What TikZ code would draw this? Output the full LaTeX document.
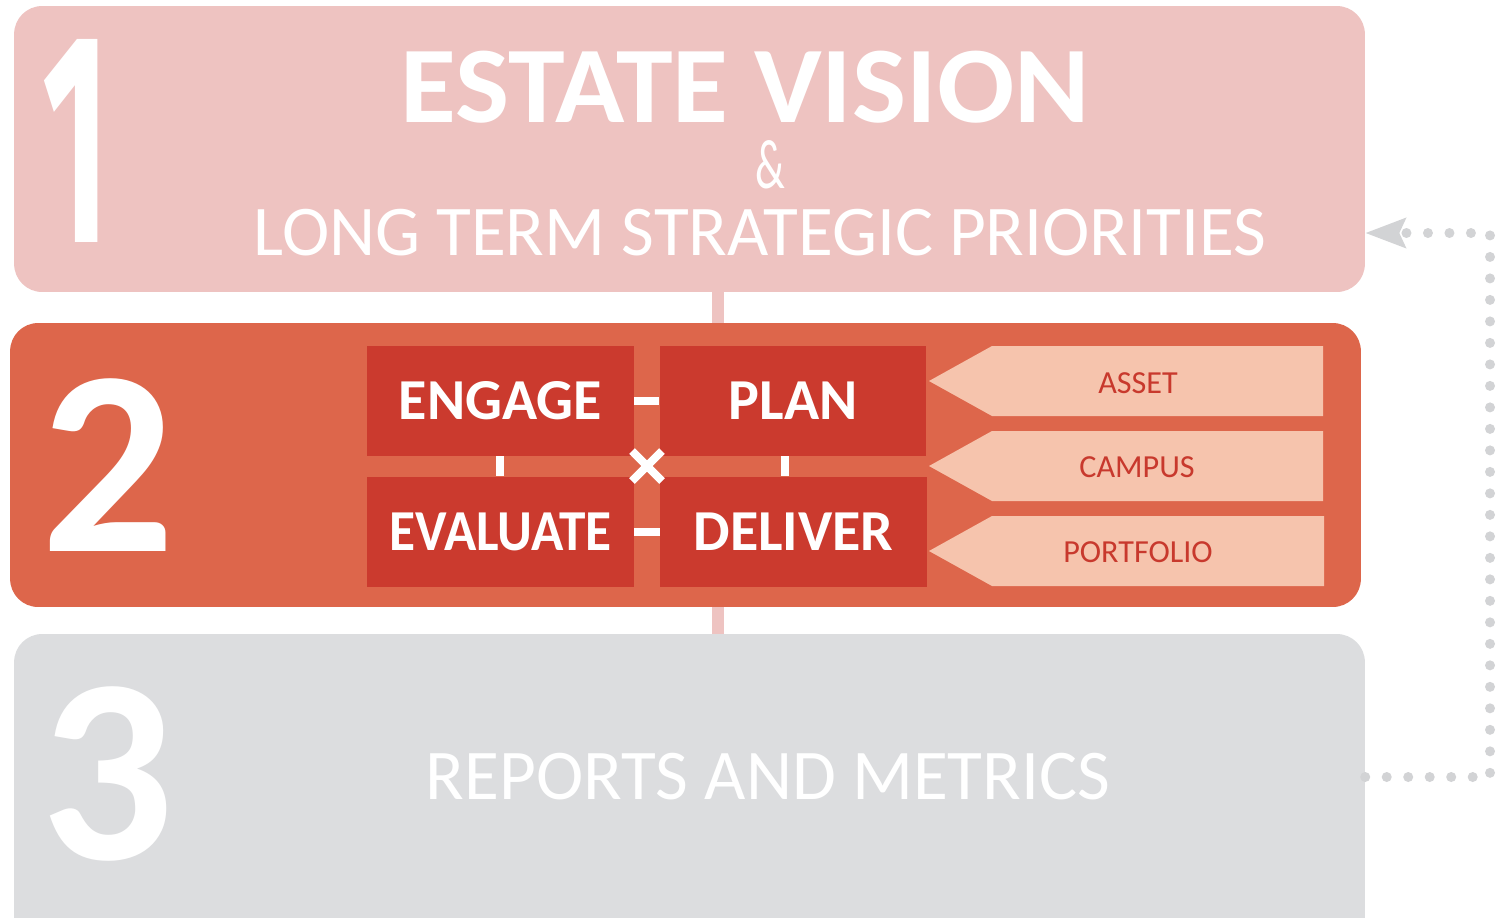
\documentclass[tikz,border=0pt]{standalone}
\usepackage{fontspec}
\setmainfont{Carlito}
\newfontfamily\onefont{Fira Sans}
\usetikzlibrary{arrows.meta}
\definecolor{boxA}{HTML}{EEC3C1}
\definecolor{boxB}{HTML}{DD664B}
\definecolor{boxC}{HTML}{DCDDDF}
\definecolor{inred}{HTML}{CB3A2E}
\definecolor{arrfill}{HTML}{F6C4AD}
\definecolor{arrtxt}{HTML}{C8392D}
\definecolor{dotc}{HTML}{D2D3D5}
\begin{document}
\begin{tikzpicture}[x=0.02cm,y=-0.02cm,
  band/.style={rounded corners=0.56cm, minimum width=27.02cm, inner sep=0pt, draw=none},
  stagebox/.style={fill=inred, minimum width=5.33cm, minimum height=2.2cm, inner sep=0pt, text=white, font=\bfseries\fontsize{33}{33}\selectfont},
  linkline/.style={draw=white, line width=0.16cm},
  tagarrow/.style={fill=arrfill},
  tagtext/.style={text=arrtxt, inner sep=0pt, font=\fontsize{18.3}{19}\selectfont},
  barline/.style={line width=0.24cm, draw=boxA},
  dotline/.style={draw=dotc, line width=0.2cm, line cap=round, dash pattern=on 0pt off 0.43cm},
  bignum/.style={text=white, inner sep=0pt, font=\bfseries\fontsize{150}{150}\selectfont},
  titletext/.style={text=white, inner sep=0pt, font=\fontsize{40.6}{41}\selectfont},
  chalk/.style={text=white, inner sep=0pt, font=\bfseries\fontsize{62}{62}\selectfont}]
\useasboundingbox (0,0) rectangle (1497,917);
\clip (0,0) rectangle (1497,917);
\fill[white] (0,0) rectangle (1497,917);

% bands
\node[band, fill=boxA, minimum height=5.72cm] (box1) at (689.5,149) {};
\node[band, fill=boxB, minimum height=5.68cm] (box2) at (685.5,465) {};
\node[band, fill=boxC, minimum height=6.32cm] (box3) at (689.5,792) {};

% bars between bands
\coordinate (mid) at (718,0);
\draw[barline] (box1.south -| mid) -- (box2.north -| mid);
\draw[barline] (box2.south -| mid) -- (box3.north -| mid);

% band 1 texts
\node[text=white, inner sep=0pt, font=\onefont\bfseries\fontsize{150}{150}\selectfont] (n1) at (76,141) {\scalebox{0.55}[1.14]{1}};
\node[chalk] (ev) at (745,87) {\scalebox{1.05}[1]{ESTATE VISION}};
\node[text=white, inner sep=0pt, font=\fontsize{40}{40}\selectfont] (amp) at (770,165) {\scalebox{0.62}[1]{\&}};
\node[titletext] (ltsp) at (760,233) {LONG TERM STRATEGIC PRIORITIES};

% band 2
\node[bignum] (n2) at (108,465) {2};
\node[stagebox] (engage) at (500.5,401) {ENGAGE};
\node[stagebox] (plan) at (793,401) {PLAN};
\node[stagebox] (evaluate) at (500.5,531.5) {\scalebox{0.92}[1]{EVALUATE}};
\node[stagebox] (deliver) at (793.5,531.5) {DELIVER};
\draw[linkline] (engage.east) -- (plan.west);
\draw[linkline] (evaluate.east) -- (deliver.west);
\coordinate (vl) at (500,0);
\coordinate (vr) at (785,0);
\draw[linkline] (engage.south -| vl) -- (evaluate.north -| vl);
\draw[linkline] (plan.south -| vr) -- (deliver.north -| vr);
\coordinate (cross) at (647,466);
\draw[linkline] ([shift={(-15,-15)}]cross) -- ([shift={(15,15)}]cross);
\draw[linkline] ([shift={(-15,15)}]cross) -- ([shift={(15,-15)}]cross);

% tag arrows
\fill[tagarrow] (929,381) -- (992,346) -- (1323,346) -- (1323,416) -- (992,416) -- cycle;
\fill[tagarrow] (929,466) -- (992,431) -- (1323,431) -- (1323,501) -- (992,501) -- cycle;
\fill[tagarrow] (929,551) -- (992,516) -- (1324,516) -- (1324,586) -- (992,586) -- cycle;
\node[tagtext] (asset) at (1138,383) {ASSET};
\node[tagtext] (campus) at (1137,467) {CAMPUS};
\node[tagtext] (portfolio) at (1138,552) {PORTFOLIO};

% band 3
\node[bignum] (n3) at (107,774) {3};
\node[titletext] (rm) at (768,777) {REPORTS AND METRICS};

% feedback dotted connector
\coordinate (fb) at (1490,777);
\coordinate (ft) at (1490,233);
\draw[dotline, -{Stealth[length=0.8cm, width=0.58cm, inset=0.12cm, fill=dotc]}]
  (fb -| box3.east) -- (fb) -- (ft) -- (ft -| box1.east);
\end{tikzpicture}
\end{document}
